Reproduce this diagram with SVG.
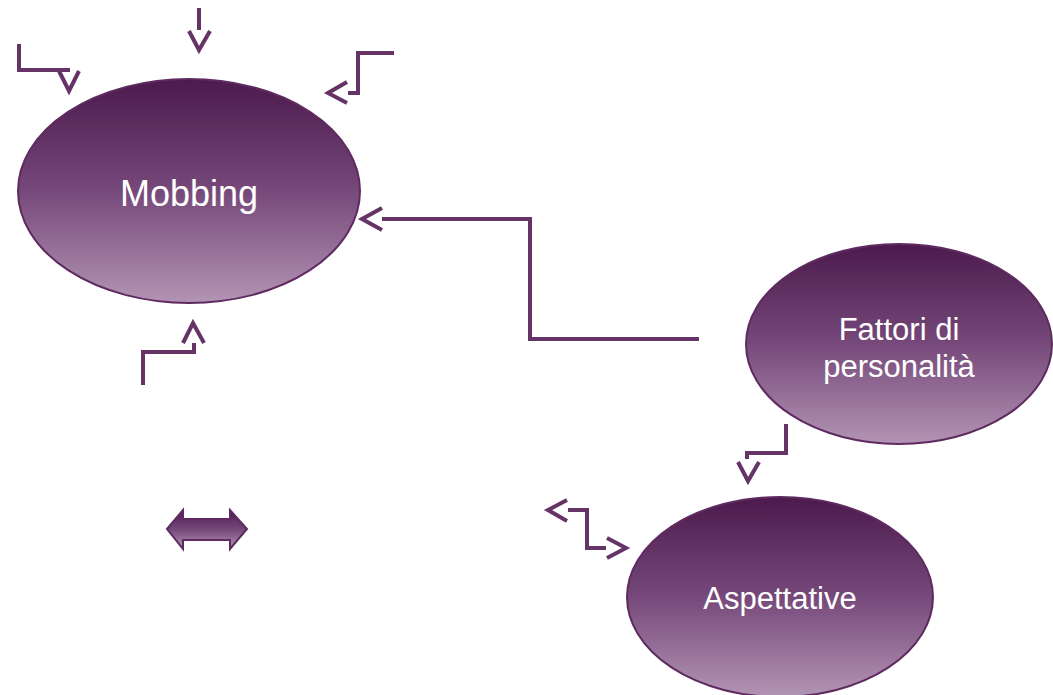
<svg xmlns="http://www.w3.org/2000/svg" width="1053" height="695" viewBox="0 0 1053 695">
<defs>
<linearGradient id="g" x1="0" y1="0" x2="0" y2="1">
<stop offset="0" stop-color="#4c1a4c"/>
<stop offset="0.5" stop-color="#76497a"/>
<stop offset="1" stop-color="#b394b4"/>
</linearGradient>
<style>
.node{fill:url(#g);stroke:#5e2a60;stroke-width:2}
.lbl{fill:#ffffff;font-family:"Liberation Sans",Arial,sans-serif;text-anchor:middle}
.c{fill:none;stroke:#663366;stroke-width:4;stroke-linejoin:miter;stroke-linecap:butt}
</style>
</defs>
<rect width="1053" height="695" fill="#ffffff"/>
<g id="mobbing">
<ellipse class="node" cx="189" cy="191" rx="171" ry="112"/>
<text class="lbl" x="189" y="206" font-size="36">Mobbing</text>
</g>
<g id="fattori">
<ellipse class="node" cx="899" cy="344" rx="153" ry="100"/>
<text class="lbl" x="899" y="340" font-size="31">Fattori di</text>
<text class="lbl" x="899" y="377" font-size="31">personalità</text>
</g>
<g id="aspettative">
<ellipse class="node" cx="780" cy="597" rx="153" ry="100"/>
<text class="lbl" x="780" y="609" font-size="31">Aspettative</text>
</g>
<g id="double-arrow">
<polygon class="node" points="167,529 183,510 183,519 230,519 230,510 247,529 230,549 230,540 183,540 183,549"/>
</g>
<g id="connectors">
<path class="c" d="M699,339 H530 V219 H382"/>
<polyline class="c" points="382,208 362,219 382,230"/>
<path class="c" d="M19,44 V70 H70"/>
<polyline class="c" points="59,71 69,91 79,71"/>
<path class="c" d="M199,8 V30"/>
<polyline class="c" points="189,31 199,50 210,31"/>
<path class="c" d="M394,53 H358 V93 H348"/>
<polyline class="c" points="347,82 328,93 347,103"/>
<path class="c" d="M143,385 V352 H194 V343"/>
<polyline class="c" points="183,343 193,323 204,343"/>
<path class="c" d="M786,424 V453 H747 V459"/>
<polyline class="c" points="738,462 748,481 759,462"/>
<path class="c" d="M568,510 H587 V548 H606"/>
<polyline class="c" points="567,500 548,510 567,521"/>
<polyline class="c" points="607,538 626,548 607,558"/>
</g>
</svg>
